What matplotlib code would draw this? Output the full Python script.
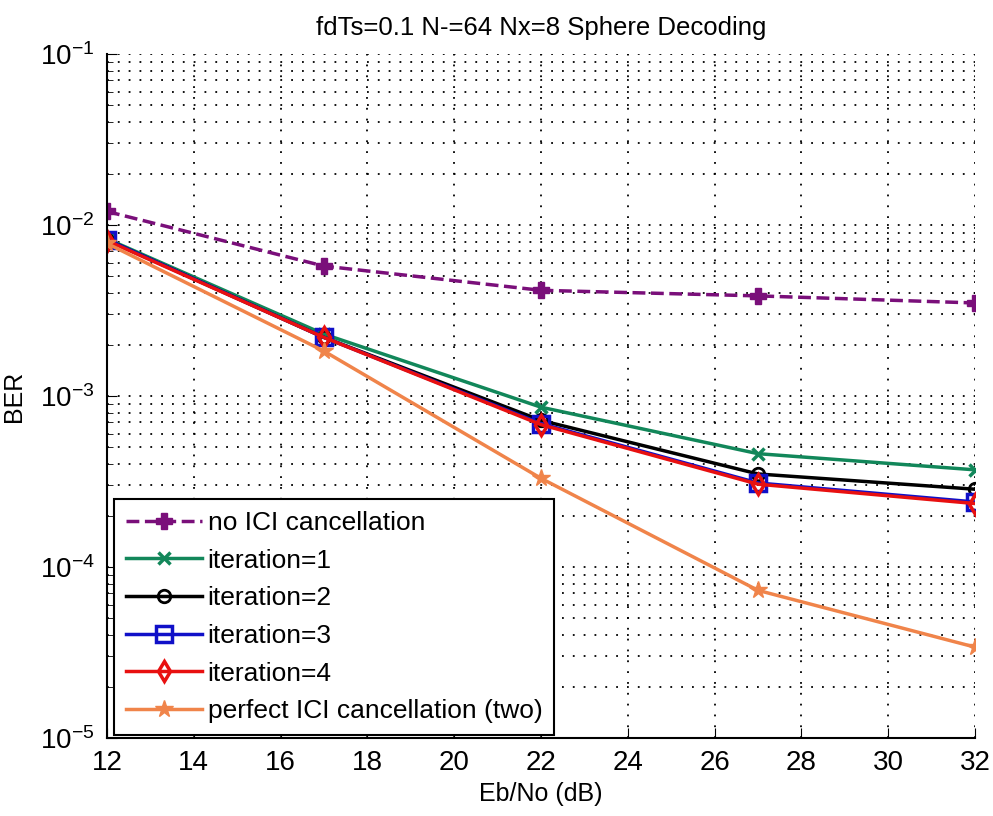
import matplotlib
matplotlib.use('Agg')
import matplotlib.pyplot as plt
from matplotlib.ticker import LogLocator, NullFormatter, MultipleLocator

plt.rcParams['font.family'] = ['Liberation Sans', 'DejaVu Sans']
plt.rcParams['mathtext.fontset'] = 'custom'
plt.rcParams['mathtext.rm'] = 'Liberation Sans'
plt.rcParams['mathtext.it'] = 'Liberation Sans'

ebno = [12, 17, 22, 27, 32]
ber_no_ici = [1.2e-2, 5.75e-3, 4.15e-3, 3.85e-3, 3.5e-3]
ber_iter1 = [8.3e-3, 2.3e-3, 8.6e-4, 4.6e-4, 3.7e-4]
ber_iter2 = [8.2e-3, 2.2e-3, 7.2e-4, 3.5e-4, 2.85e-4]
ber_iter3 = [8.2e-3, 2.2e-3, 6.9e-4, 3.1e-4, 2.4e-4]
ber_iter4 = [8.1e-3, 2.2e-3, 6.8e-4, 3.05e-4, 2.35e-4]
ber_perfect = [7.8e-3, 1.83e-3, 3.3e-4, 7.3e-5, 3.4e-5]

labels = ['no ICI cancellation', 'iteration=1', 'iteration=2',
          'iteration=3', 'iteration=4', 'perfect ICI cancellation (two)']

fig = plt.figure(figsize=(9.93, 8.16), dpi=100)
ax = fig.add_axes([107 / 993, 1 - 738 / 816, (975 - 107) / 993, (738 - 54) / 816])

lw = 2.5
ax.semilogy(ebno, ber_no_ici, '--', color='#7a0f7a', lw=lw, marker='P', ms=11,
            mfc='#7a0f7a', mec='#7a0f7a', label=labels[0])
ax.semilogy(ebno, ber_iter1, '-', color='#12875a', lw=lw, marker='x', ms=8,
            mew=2.5, label=labels[1])
ax.semilogy(ebno, ber_iter2, '-', color='black', lw=lw, marker='o', ms=9,
            mfc='none', mew=2, label=labels[2])
ax.semilogy(ebno, ber_iter3, '-', color='#1010c8', lw=lw, marker='s', ms=11,
            mfc='none', mew=2.5, label=labels[3])
ax.semilogy(ebno, ber_iter4, '-', color='#e81010', lw=lw, marker='d', ms=10,
            mfc='none', mew=2.5, label=labels[4])
ax.semilogy(ebno, ber_perfect, '-', color='#f0844a', lw=lw, marker='*', ms=13,
            mfc='#f0844a', mec='#f0844a', label=labels[5])

ax.set_xlim(12, 32)
ax.set_ylim(1e-5, 1e-1)
ax.xaxis.set_major_locator(MultipleLocator(2))
ax.yaxis.set_major_locator(LogLocator(base=10, numticks=10))
ax.yaxis.set_minor_locator(LogLocator(base=10, subs=range(2, 10), numticks=20))
ax.yaxis.set_minor_formatter(NullFormatter())

ax.grid(True, which='major', linestyle=(0, (1, 5)), color='black', lw=1.3)
ax.grid(True, which='minor', axis='y', linestyle=(0, (1, 5)), color='black', lw=1.3)
ax.spines['top'].set_visible(False)
ax.spines['right'].set_visible(False)
ax.spines['left'].set_linewidth(1.5)
ax.spines['bottom'].set_linewidth(1.5)
ax.tick_params(which='both', direction='in', labelsize=20, pad=9)
ax.tick_params(which='major', length=7)
ax.tick_params(which='minor', length=4)

ax.set_title('fdTs=0.1 N-=64 Nx=8 Sphere Decoding', fontsize=18.5, pad=14)
ax.set_xlabel('Eb/No (dB)', fontsize=18, labelpad=4)
ax.set_ylabel('BER', fontsize=18, labelpad=10)

leg = ax.legend(loc='lower left', bbox_to_anchor=(0.008, 0.004), fontsize=19,
                fancybox=False, framealpha=1, edgecolor='black',
                handlelength=2.9, handletextpad=0.2, labelspacing=0.52,
                borderpad=0.45, borderaxespad=0)
leg.get_frame().set_linewidth(1.5)

fig.savefig('out.png', dpi=100)
